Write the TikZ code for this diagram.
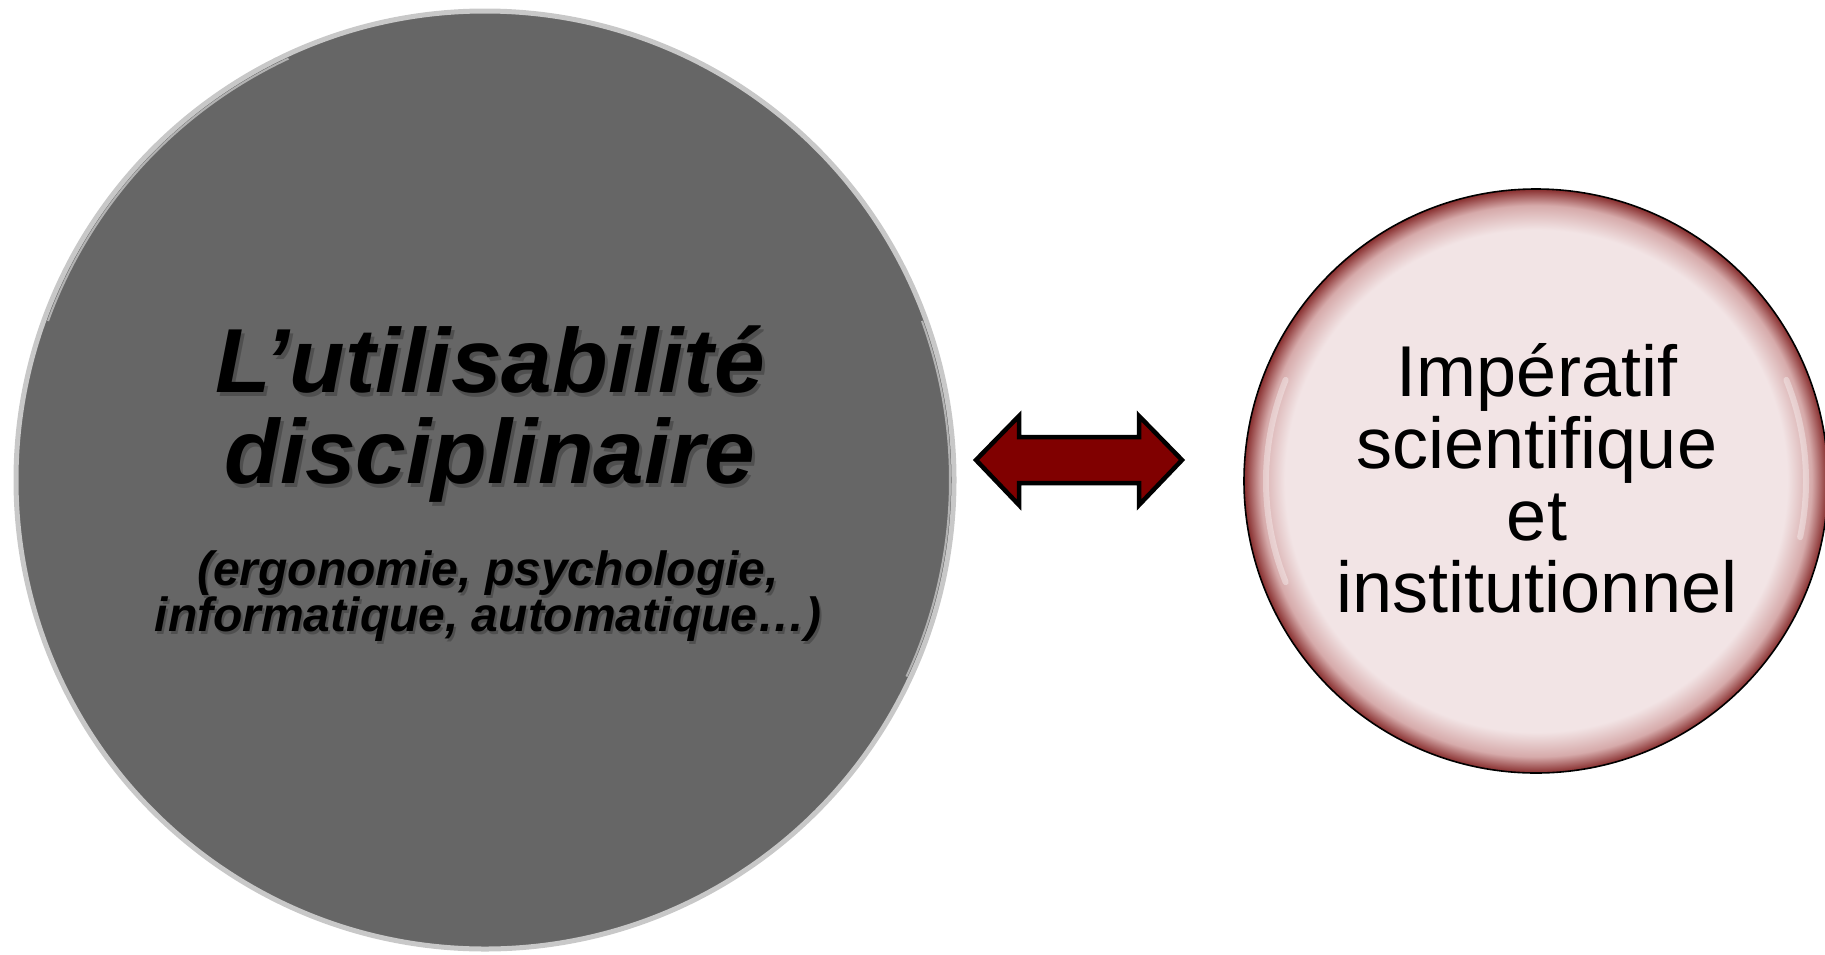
\documentclass[tikz,border=0pt]{standalone}
\usepackage{fontspec}
\setmainfont{Liberation Sans}
\definecolor{leftgray}{RGB}{102,102,102}
\definecolor{rimlight}{RGB}{200,200,200}
\definecolor{pinkbg}{RGB}{242,228,229}
\definecolor{pinkmid}{RGB}{214,170,170}
\definecolor{rimred}{RGB}{135,45,45}
\definecolor{arrowred}{RGB}{128,0,0}
\pgfdeclareradialshading{rimshade}{\pgfpoint{0bp}{0bp}}{color(0bp)=(pinkbg);color(21.5bp)=(pinkbg);color(23.6bp)=(pinkmid);color(25bp)=(rimred);color(50bp)=(rimred)}
\tikzset{
  leftcircle/.style={circle, minimum size=938pt, inner sep=0pt, fill=leftgray, draw=rimlight, line width=5pt},
  rightcircle/.style={circle, minimum size=584pt, inner sep=0pt, shading=rimshade, draw=black, line width=1.6pt},
  bigtxt/.style={align=center, font=\fontsize{91}{91}\selectfont\bfseries\itshape},
  smalltxt/.style={align=center, font=\fontsize{48}{42}\selectfont\bfseries\itshape},
  righttxt/.style={align=center, font=\fontsize{72}{72}\selectfont},
  shadowtxt/.style={text=black, text opacity=0.22},
  glare/.style={white, opacity=0.35, line width=6pt, line cap=round},
  dblarrow/.style={fill=arrowred, draw=black, line width=4.5pt, line join=miter}
}
\begin{document}
\begin{tikzpicture}[x=1pt,y=-1pt]
\useasboundingbox (0,0) rectangle (1825,954);
% left circle
\node[leftcircle] (L) at (485,480) {};
\draw[white, opacity=0.5, line width=2pt] (L.center) ++(-20:465) arc[start angle=-20, end angle=25, radius=465];
\draw[white, opacity=0.5, line width=2pt] (L.center) ++(200:465) arc[start angle=200, end angle=245, radius=465];
% soft shadows of text
\node[bigtxt, shadowtxt] (Ls) at (493,418) {L’utilisabilité\\disciplinaire};
\node[smalltxt, shadowtxt] (Ss) at (490,599) {(ergonomie, psychologie,\\informatique, automatique…)};
% text
\node[bigtxt] (Lt) at (490,414) {L’utilisabilité\\disciplinaire};
\node[smalltxt] (St) at (488,596) {(ergonomie, psychologie,\\informatique, automatique…)};
% right circle
\node[rightcircle] (R) at (1536,481) {};
\draw[glare] (R.center) ++(158:270) arc[start angle=158, end angle=202, radius=270];
\draw[glare] (R.center) ++(-22:270) arc[start angle=-22, end angle=12, radius=270];
\node[righttxt] (Rt) at (1537,478) {Impératif\\scientifique\\et\\institutionnel};
% double arrow
\draw[dblarrow] (976,460) -- (1019,416) -- (1019,437) -- (1139,437) -- (1139,416) -- (1182,460) -- (1139,505) -- (1139,483) -- (1019,483) -- (1019,505) -- cycle;
\end{tikzpicture}
\end{document}
